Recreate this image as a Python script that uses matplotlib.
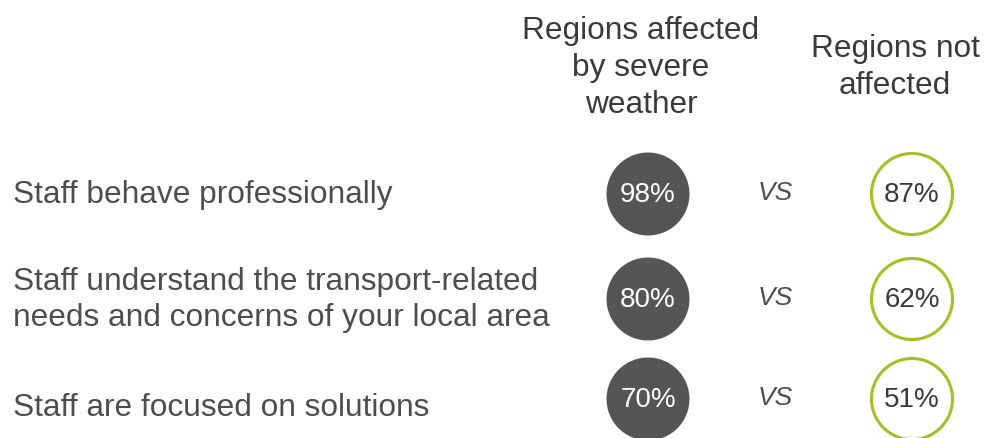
import matplotlib.pyplot as plt

plt.rcParams["font.family"] = ["Liberation Sans", "DejaVu Sans"]

# Survey statements and the share agreeing in each group
statements = [
    "Staff behave professionally",
    "Staff understand the transport-related\nneeds and concerns of your local area",
    "Staff are focused on solutions",
]
affected_pct = [98, 80, 70]
not_affected_pct = [87, 62, 51]
group_titles = ["Regions affected\nby severe\nweather", "Regions not\naffected"]

DARK = "#555555"
GREEN = "#a9bd24"
TEXT = "#4d4d4d"
HEAD = "#3a3a3a"

W, H = 986, 439
fig = plt.figure(figsize=(W / 100, H / 100), dpi=100)
ax = fig.add_axes([0, 0, 1, 1])
ax.set_xlim(0, W)
ax.set_ylim(H, 0)
ax.set_aspect("equal")
ax.axis("off")

row_y = [195, 300, 400]
label_base = [203, 326, 416]
x_dark, x_vs, x_green = 648, 775, 912
radius = 42

# column headers (y is the baseline of the last line)
ax.text(x_dark - 7, 113, group_titles[0], ha="center", va="baseline",
        fontsize=22.8, color=HEAD, linespacing=1.3)
ax.text(895, 94, group_titles[1], ha="center", va="baseline",
        fontsize=22.8, color=HEAD, linespacing=1.3)

for y, yb, label, a, b in zip(row_y, label_base, statements,
                              affected_pct, not_affected_pct):
    ax.text(13, yb, label, ha="left", va="baseline", fontsize=22.8,
            color=TEXT, linespacing=1.28)

    ax.add_patch(plt.Circle((x_dark, y), radius - 0.5, facecolor=DARK,
                            edgecolor="none"))
    ax.text(x_dark, y, f"{a}%", ha="center", va="center", fontsize=20,
            color="white")

    ax.text(x_vs, y - 2, "VS", ha="center", va="center", fontsize=19,
            style="italic", color=TEXT)

    ax.add_patch(plt.Circle((x_green, y), radius - 1.5, facecolor="white",
                            edgecolor=GREEN, linewidth=2.2))
    ax.text(x_green, y, f"{b}%", ha="center", va="center", fontsize=20,
            color="#3a3a3a")

fig.savefig("out.png", dpi=100)
